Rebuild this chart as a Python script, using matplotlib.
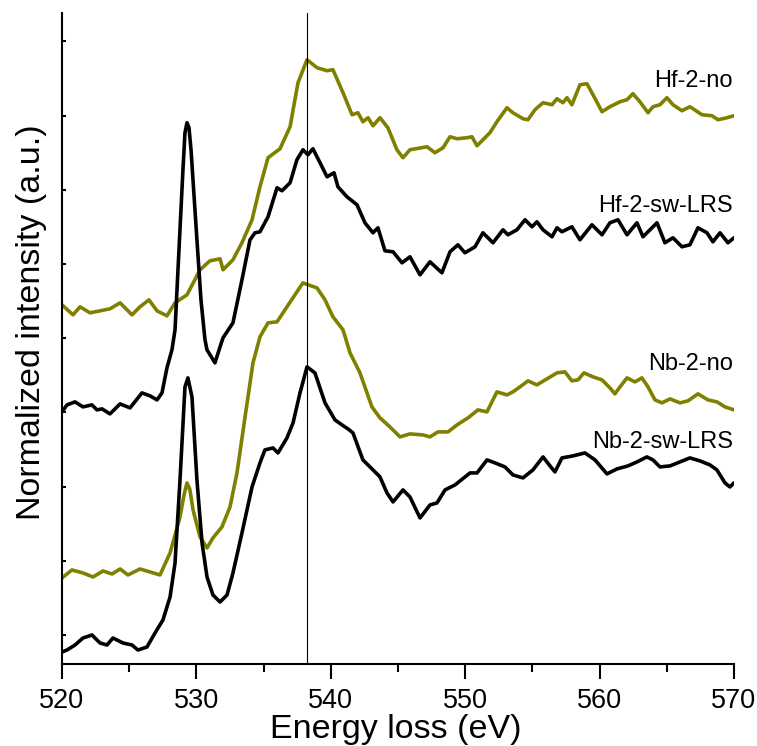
import matplotlib
matplotlib.use('Agg')
import matplotlib.pyplot as plt
import numpy as np

plt.rcParams['font.family'] = ['Liberation Sans', 'DejaVu Sans']

# Hf-2-no (olive, top)
hf_no_e = [520.0, 520.82, 521.34, 522.08, 522.83, 523.57, 524.32, 525.21, 525.80, 526.47, 527.07, 527.81,
           528.41, 529.30, 530.27, 531.01, 531.76, 531.98, 532.72, 533.39, 534.14, 534.73, 535.33, 536.22,
           536.97, 537.56, 538.23, 538.97, 539.72, 540.16, 540.91, 541.58, 542.02, 542.39, 542.77, 543.14,
           543.66, 544.25, 544.92, 545.37, 545.89, 547.16, 547.75, 548.35, 548.87, 549.39, 550.13, 550.50,
           550.88, 551.84, 552.36, 553.11, 553.55, 554.30, 554.67, 555.19, 555.79, 556.46, 556.83, 557.27,
           557.57, 557.94, 558.54, 559.06, 559.51, 560.18, 560.77, 561.52, 562.04, 562.48, 563.00, 563.60,
           563.97, 564.49, 565.01, 565.46, 566.13, 566.72, 567.62, 568.36, 568.81, 569.48, 570.0]
hf_no_i = [330, 320, 328, 322, 324, 326, 332, 320, 328, 335, 324, 319,
           332, 340, 365, 374, 376, 365, 375, 392, 415, 448, 477, 486,
           508, 552, 575, 567, 564, 565, 542, 520, 522, 513, 517, 509,
           517, 507, 485, 477, 485, 488, 482, 487, 498, 496, 497, 498,
           489, 502, 513, 527, 522, 516, 515, 525, 532, 530, 536, 532,
           537, 530, 550, 551, 540, 523, 528, 533, 535, 541, 533, 522,
           528, 530, 537, 530, 524, 528, 520, 519, 515, 517, 519]

# Hf-2-sw-LRS (black, second)
hf_sw_e = [520.0, 520.37, 520.97, 521.56, 522.23, 522.60, 522.98, 523.57, 524.32, 525.06, 525.95, 526.55,
           527.07, 527.44, 527.81, 528.18, 528.41, 528.63, 529.00, 529.15, 529.30, 529.45, 529.60, 529.82,
           530.04, 530.34, 530.64, 530.79, 531.38, 531.76, 531.98, 532.72, 533.39, 533.99, 534.36, 534.73,
           535.33, 536.00, 536.37, 536.97, 537.48, 537.93, 538.30, 538.67, 539.20, 539.72, 540.24, 540.53,
           541.20, 541.95, 542.54, 543.14, 543.51, 544.03, 544.63, 545.30, 545.89, 546.64, 547.38, 548.27,
           548.87, 549.46, 549.98, 550.73, 551.32, 552.07, 552.81, 553.18, 553.85, 554.45, 554.97, 555.34,
           555.79, 556.46, 556.83, 557.20, 557.94, 558.54, 559.43, 560.18, 560.77, 561.37, 562.04, 562.78,
           563.23, 564.27, 564.86, 565.46, 566.13, 566.72, 567.32, 567.99, 568.43, 568.96, 569.55, 570.0]
hf_sw_i = [223, 230, 233, 228, 230, 225, 226, 221, 231, 227, 242, 239,
           235, 242, 267, 285, 305, 365, 465, 502, 512, 507, 485, 440,
           395, 335, 295, 285, 272, 288, 297, 312, 355, 395, 402, 403,
           418, 447, 444, 452, 475, 485, 480, 486, 472, 458, 462, 448,
           438, 430, 412, 402, 407, 384, 383, 372, 378, 360, 373, 362,
           383, 390, 382, 388, 402, 392, 405, 400, 405, 415, 408, 413,
           405, 398, 407, 403, 408, 395, 410, 400, 412, 415, 400, 412,
           398, 412, 392, 397, 388, 390, 407, 402, 393, 402, 392, 397]

# Nb-2-no (olive, third)
nb_no_e = [520.0, 520.74, 521.56, 522.31, 523.05, 523.72, 524.32, 524.91, 525.80, 526.55, 527.29, 528.04,
           528.78, 529.08, 529.30, 529.52, 529.75, 530.27, 530.79, 531.23, 531.90, 532.50, 533.02, 533.62,
           534.21, 534.73, 535.33, 536.00, 536.74, 537.48, 537.93, 538.30, 538.97, 539.57, 540.16, 540.91,
           541.43, 542.17, 543.06, 543.66, 544.40, 545.15, 545.89, 546.86, 547.38, 547.97, 548.72, 549.39,
           550.21, 550.95, 551.62, 552.36, 553.11, 553.55, 554.08, 554.67, 555.34, 556.08, 556.83, 557.42,
           557.94, 558.39, 558.84, 559.51, 560.18, 560.77, 561.14, 561.52, 562.04, 562.63, 563.15, 563.60,
           564.12, 564.64, 565.24, 565.98, 566.57, 567.32, 568.06, 568.73, 569.33, 570.0]
nb_no_i = [57, 65, 62, 58, 64, 61, 66, 60, 66, 63, 60, 82,
           118, 140, 152, 145, 125, 98, 87, 97, 108, 128, 162, 218,
           272, 298, 312, 313, 328, 343, 352, 350, 347, 335, 318, 305,
           282, 262, 228, 217, 208, 198, 201, 200, 198, 203, 203, 210,
           217, 225, 223, 243, 240, 243, 248, 254, 250, 256, 262, 263,
           254, 255, 262, 258, 255, 247, 241, 248, 257, 253, 257, 248,
           235, 232, 236, 232, 234, 241, 235, 233, 228, 225]

# Nb-2-sw-LRS (black, bottom)
nb_sw_e = [520.0, 520.37, 520.97, 521.56, 522.23, 522.83, 523.35, 523.79, 524.54, 525.21, 525.65, 526.32,
           526.92, 527.51, 528.04, 528.41, 528.78, 529.15, 529.37, 529.67, 530.04, 530.42, 530.79, 531.23,
           531.76, 532.28, 532.72, 533.39, 534.14, 534.73, 535.10, 535.70, 536.07, 536.74, 537.19, 537.71,
           538.23, 538.82, 539.57, 540.31, 540.83, 541.28, 541.65, 542.39, 543.14, 543.66, 544.18, 544.63,
           545.37, 545.89, 546.64, 547.38, 547.90, 548.50, 549.24, 550.36, 550.88, 551.62, 552.22, 552.96,
           553.55, 554.30, 555.04, 555.79, 556.31, 556.68, 557.20, 558.02, 558.91, 559.66, 560.55, 561.29,
           562.11, 562.78, 563.52, 563.97, 564.49, 565.24, 565.98, 566.72, 567.47, 568.21, 568.73, 569.33,
           569.70, 570.0]
nb_sw_i = [-17, -15, -10, -3, 0, -8, -10, -3, -8, -10, -15, -12,
           2, 15, 38, 72, 155, 248, 257, 238, 155, 92, 58, 40,
           33, 40, 62, 102, 148, 172, 185, 187, 182, 197, 212, 242,
           268, 262, 232, 215, 210, 206, 202, 175, 165, 158, 142, 133,
           145, 138, 117, 130, 132, 145, 150, 162, 162, 175, 172, 168,
           160, 157, 165, 178, 169, 163, 177, 179, 182, 175, 161, 166,
           169, 173, 178, 175, 168, 169, 173, 177, 174, 170, 165, 152,
           148, 152]

labels = ['Hf-2-no', 'Hf-2-sw-LRS', 'Nb-2-no', 'Nb-2-sw-LRS']
label_y = [548, 423, 265, 187]
olive = '#808000'

fig = plt.figure(figsize=(7.57, 7.46), dpi=100)
ax = fig.add_axes([0.0819, 0.1099, 0.8877, 0.8731])

for e, i, c in [(hf_no_e, hf_no_i, olive), (hf_sw_e, hf_sw_i, 'black'),
                (nb_no_e, nb_no_i, olive), (nb_sw_e, nb_sw_i, 'black')]:
    ax.plot(e, i, color=c, lw=2.6, solid_joinstyle='round', solid_capstyle='round')
ax.axvline(538.2, color='black', lw=0.8)

for lab, yy in zip(labels, label_y):
    ax.text(569.9, yy, lab, ha='right', va='baseline', fontsize=17)

ax.set_xlim(520, 570)
ax.set_ylim(-29, 622)
ax.set_xticks([520, 530, 540, 550, 560, 570])
ax.set_xticks([525, 535, 545, 555, 565], minor=True)
ax.set_yticks(np.arange(9) * 74.16)
ax.set_yticklabels([])

ax.spines['top'].set_visible(False)
ax.spines['right'].set_visible(False)
ax.spines['left'].set_linewidth(1.5)
ax.spines['bottom'].set_linewidth(1.5)
ax.tick_params(axis='x', which='major', direction='out', length=11, width=1.5, pad=6.5, labelsize=19.5)
ax.tick_params(axis='x', which='minor', direction='out', length=6, width=1.5)
ax.tick_params(axis='y', which='major', direction='in', length=3, width=1.5)

ax.set_xlabel('Energy loss (eV)', fontsize=24.5)
ax.set_ylabel('Normalized intensity (a.u.)', fontsize=24.5)
ax.xaxis.set_label_coords(0.497, -0.077)
ax.yaxis.set_label_coords(-0.022, 0.525)

plt.savefig('out.png', dpi=100)
plt.close()
